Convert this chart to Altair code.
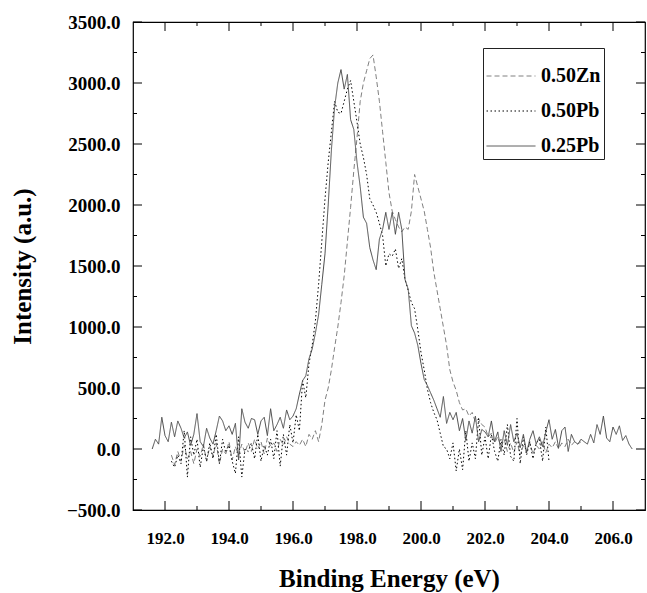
import altair as alt
import pandas as pd
import numpy as np

# ---------------- data ----------------
series_names = ["0.50Zn", "0.50Pb", "0.25Pb"]

# 0.25Pb (solid), sampled every 0.1 eV from 191.6 eV
pb25_start = 191.6
pb25_vals = [
    0, 80, 40, 260, 110, 60, 220, 100, 230, 170,
    90, 140, 30, 120, 290, 60, 20, 170, 90, 40,
    150, 270, 230, 150, 190, 120, 210, -90, 330, 220,
    170, 250, 240, 120, 230, 260, 110, 330, 150, 200,
    260, 170, 320, 240, 270, 330, 450, 560, 600, 740,
    820, 950, 1100, 1350, 1600, 2000, 2450, 2800, 3000, 3110,
    2950, 3070, 2700, 2620, 2350, 2150, 1900, 1850, 1650, 1550,
    1470, 1720, 1800, 1940, 1800, 1940, 1760, 1940, 1800, 1390,
    1310, 1010, 950, 850, 700, 570, 520, 460, 400, 330,
    260, 430, 210, 300, 240, 300, 150, 250, 70, 230,
    130, 270, 60, 160, 140, 100, 230, 60, 140, -20,
    150, 30, 200, 60, 130, 10, 120, -30, 80, 150,
    40, 100, 20, 140, 240, 80, 160, 10, 150, 180,
    -20, 120, 60, 40, 80, 60, 40, 120, 50, 200,
    120, 270, 90, 60, 180, 120, 190, 70, 110, 40,
    0,
]

# 0.50Pb (dotted), sampled every 0.1 eV from 192.2 eV
pb50_start = 192.2
pb50_vals = [
    -100, -150, -50, -120, 150, -230, 100, -50, 80, -150,
    20, -100, 50, -80, 120, -120, 80, -30, 30, -100,
    -200, 100, -230, 0, -20, 50, -80, 120, -100, 30,
    -50, 80, -80, 150, -140, 120, -50, 200, 50, 280,
    150, 560, 420, 700, 850, 1050, 1350, 1700, 2050, 2350,
    2600, 2850, 2760, 2750, 2850, 2950, 3020, 2850, 2680, 2500,
    2390, 2250, 2050, 2000, 1940, 1850, 1750, 1500, 1600, 1580,
    1640, 1480, 1560, 1390, 1300, 1200, 1150, 980, 790, 650,
    490, 380, 300, 240, 130, 20, 0, -80, 50, -180,
    0, -170, 150, -100, 50, -80, 250, -50, 100, -80,
    120, -20, -100, 80, -50, 200, -60, -100, 250, -120,
    100, -50, 60, -80, 50, 80, -100, 180, -100,
]

# 0.50Zn (dashed), sampled every 0.1 eV from 192.2 eV
zn50_start = 192.2
zn50_vals = [
    -50, -130, -20, -100, 30, -80, -20, -120, 0, -60,
    40, -100, 20, -60, 50, -120, 0, -40, 60, -90,
    20, -50, 40, -30, 50, -20, 80, 0, 60, -40,
    90, 20, 50, -20, 80, 30, 100, 40, 20, 60,
    30, 80, 20, 120, 80, 150, 60, 200, 400, 500,
    650, 830, 1000, 1200, 1420, 1700, 1980, 2280, 2550, 2850,
    3000, 3100, 3200, 3230, 3050, 2850, 2600, 2350, 2100, 1950,
    1880, 1820, 1780, 1820, 1800, 1950, 2250, 2150, 2050, 1950,
    1800, 1650, 1450, 1300, 1150, 1000, 850, 650, 550, 480,
    380, 320, 330, 270, 300, 220, 250, 200, 180, 100,
    130, 50, 100, 20, 80, -20, 50, -30, 60, -50,
    30, -20, 50, -40, 30, 0, 60, -30, 40, 10,
    60, 0, 50, 20, 80, 30, 60, 40, 60,
]

energy_step = 0.1
x_label_values = [192, 194, 196, 198, 200, 202, 204, 206]
x_minor_values = [193, 195, 197, 199, 201, 203, 205]
y_label_values = [-500, 0, 500, 1000, 1500, 2000, 2500, 3000, 3500]
y_minor_values = [-250, 250, 750, 1250, 1750, 2250, 2750, 3250]

# ---------------- build table ----------------
frames = []
for name, start, vals in [("0.50Zn", zn50_start, zn50_vals),
                          ("0.50Pb", pb50_start, pb50_vals),
                          ("0.25Pb", pb25_start, pb25_vals)]:
    e = np.round(start + energy_step * np.arange(len(vals)), 2)
    frames.append(pd.DataFrame({"E": e, "I": vals, "series": name}))
df = pd.concat(frames, ignore_index=True)

FONT = "Liberation Serif"
W, H = 512, 488
xscale = alt.Scale(domain=[191, 207], nice=False, zero=False)
yscale = alt.Scale(domain=[-500, 3500], nice=False, zero=False)

x_axis = alt.Axis(values=x_label_values, format=".1f", ticks=False, domain=False,
                  grid=False, labelPadding=20, labelFontSize=17,
                  title="Binding Energy (eV)", titleY=68, titleBaseline="middle")
y_axis = alt.Axis(values=y_label_values, format=".1f", ticks=False, domain=False,
                  grid=False, labelPadding=13, labelFontSize=19,
                  title="Intensity (a.u.)",
                  titleX=-111, titleY=H / 2, titleAngle=270,
                  titleBaseline="middle", titleAlign="center")

legend = alt.Legend(
    title=None, orient="none", legendX=350, legendY=26,
    symbolType="stroke", symbolSize=2400, symbolStrokeWidth=1,
    labelFont=FONT, labelFontWeight="bold", labelFontSize=20, labelColor="black",
    padding=3, rowPadding=0, strokeColor="#222", fillColor="white",
    labelOffset=5, labelLimit=200,
)

lines = alt.Chart(df).mark_line(strokeWidth=1, clip=True).encode(
    x=alt.X("E:Q", scale=xscale, axis=x_axis),
    y=alt.Y("I:Q", scale=yscale, axis=y_axis),
    color=alt.Color("series:N",
                    scale=alt.Scale(domain=series_names, range=["#808080", "#000000", "#4a4a4a"]),
                    legend=legend),
    strokeDash=alt.StrokeDash("series:N",
                              scale=alt.Scale(domain=series_names,
                                              range=[[5, 3], [1.5, 2.5], [1, 0]]),
                              legend=legend),
    detail="series:N",
    order="E:Q",
)


def xticks(vals, y0, y1):
    d = pd.DataFrame({"E": vals})
    return alt.Chart(d).mark_rule(color="black", strokeWidth=1).encode(
        x=alt.X("E:Q", scale=xscale, axis=x_axis),
        y=alt.value(y0), y2=alt.value(y1))


def yticks(vals, x0, x1):
    d = pd.DataFrame({"I": vals})
    return alt.Chart(d).mark_rule(color="black", strokeWidth=1).encode(
        y=alt.Y("I:Q", scale=yscale, axis=y_axis),
        x=alt.value(x0), x2=alt.value(x1))


MAJ, MIN = 9, 4
layers = [
    lines,
    xticks(x_label_values, H, H - MAJ), xticks(x_minor_values, H, H - MIN),
    xticks(x_label_values, 0, MAJ), xticks(x_minor_values, 0, MIN),
    yticks(y_label_values, 0, MAJ), yticks(y_minor_values, 0, MIN),
    yticks(y_label_values, W, W - MAJ), yticks(y_minor_values, W, W - MIN),
]

chart = alt.layer(*layers).properties(
    width=W, height=H,
    autosize=alt.AutoSizeParams(type="none"),
    padding={"left": 133, "top": 22, "right": 2, "bottom": 83},
    background="white",
).configure_view(
    stroke="black", strokeWidth=1.2
).configure_axis(
    labelFont=FONT, labelFontWeight="bold", labelColor="black",
    titleFont=FONT, titleFontWeight="bold", titleFontSize=25, titleColor="black",
)

chart.save("out.html", embed_options={"renderer": "svg", "actions": False})
